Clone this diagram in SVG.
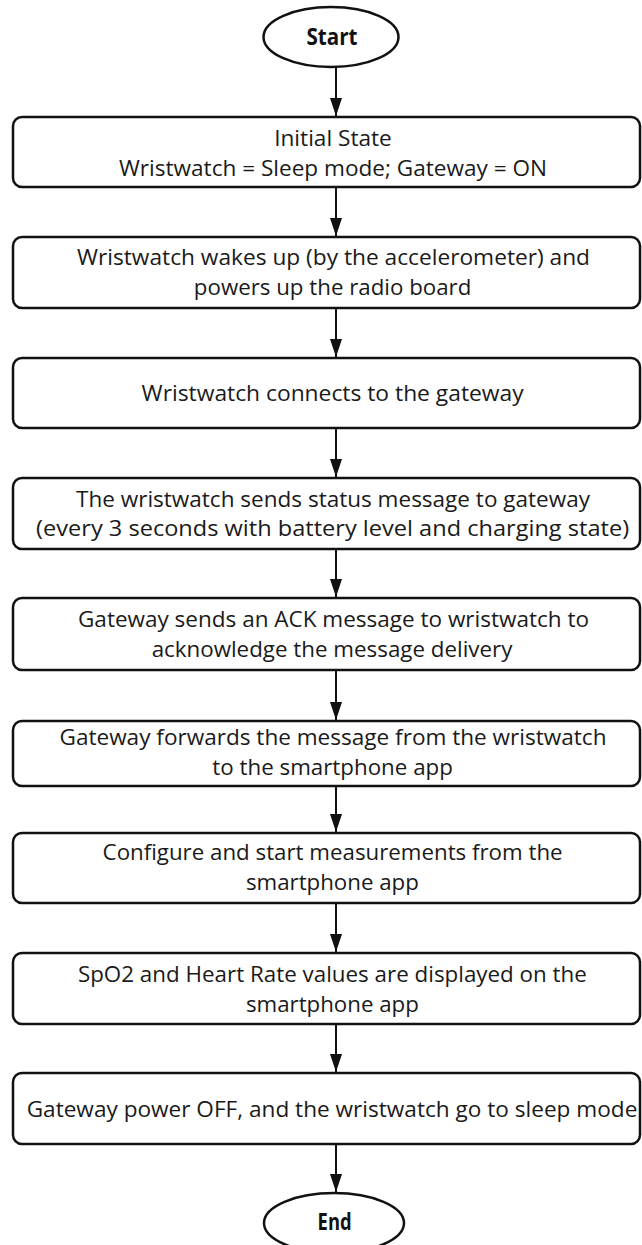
<svg xmlns="http://www.w3.org/2000/svg" width="642" height="1245" viewBox="0 0 642 1245">
<style>
.box{fill:#fff;stroke:#111;stroke-width:2.5}
.term{fill:#fff;stroke:#111;stroke-width:2.5}
.t{font-family:"Open Sans","Liberation Sans",sans-serif;font-size:22.5px;fill:#1a1a1a;text-anchor:middle}
.b{font-family:"Open Sans","Liberation Sans",sans-serif;font-size:22.5px;font-weight:bold;fill:#111;text-anchor:middle}
.c{stroke:#111;stroke-width:2;fill:none}
</style>
<defs>
<marker id="ah" markerWidth="18" markerHeight="12" refX="18" refY="6" orient="auto" markerUnits="userSpaceOnUse" viewBox="0 0 18 12">
<path d="M0,0 L18,6 L0,12 Z" fill="#111"/>
</marker>
</defs>
<rect width="642" height="1245" fill="#fff"/>
<g id="connectors">
<line class="c" x1="336" y1="67" x2="336" y2="116" marker-end="url(#ah)"/>
<line class="c" x1="336" y1="188" x2="336" y2="236" marker-end="url(#ah)"/>
<line class="c" x1="336" y1="309" x2="336" y2="357" marker-end="url(#ah)"/>
<line class="c" x1="336" y1="429" x2="336" y2="477" marker-end="url(#ah)"/>
<line class="c" x1="336" y1="550" x2="336" y2="597" marker-end="url(#ah)"/>
<line class="c" x1="336" y1="671" x2="336" y2="720" marker-end="url(#ah)"/>
<line class="c" x1="336" y1="787" x2="336" y2="832" marker-end="url(#ah)"/>
<line class="c" x1="336" y1="904" x2="336" y2="952" marker-end="url(#ah)"/>
<line class="c" x1="336" y1="1025" x2="336" y2="1072" marker-end="url(#ah)"/>
<line class="c" x1="336" y1="1145" x2="336" y2="1192" marker-end="url(#ah)"/>
</g>
<g id="start">
<ellipse class="term" cx="331" cy="37" rx="67.5" ry="30"/>
<text class="b" x="332" y="45" textLength="51" lengthAdjust="spacingAndGlyphs">Start</text>
</g>
<g id="n1">
<rect class="box" x="13" y="117" width="627" height="70" rx="9"/>
<text class="t" x="333" y="145.5" textLength="117.6" lengthAdjust="spacingAndGlyphs">Initial State</text>
<text class="t" x="333" y="175.5" textLength="428" lengthAdjust="spacingAndGlyphs">Wristwatch = Sleep mode; Gateway = ON</text>
</g>
<g id="n2">
<rect class="box" x="13" y="237" width="627" height="71" rx="9"/>
<text class="t" x="333.5" y="265" textLength="513" lengthAdjust="spacingAndGlyphs">Wristwatch wakes up (by the accelerometer) and</text>
<text class="t" x="332.6" y="295" textLength="277.5" lengthAdjust="spacingAndGlyphs">powers up the radio board</text>
</g>
<g id="n3">
<rect class="box" x="13" y="358" width="627" height="70" rx="9"/>
<text class="t" x="332.6" y="400.5" textLength="382" lengthAdjust="spacingAndGlyphs">Wristwatch connects to the gateway</text>
</g>
<g id="n4">
<rect class="box" x="13" y="478" width="627" height="71" rx="9"/>
<text class="t" x="333" y="506.5" textLength="514" lengthAdjust="spacingAndGlyphs">The wristwatch sends status message to gateway</text>
<text class="t" x="332.6" y="536" textLength="593" lengthAdjust="spacingAndGlyphs">(every 3 seconds with battery level and charging state)</text>
</g>
<g id="n5">
<rect class="box" x="13" y="598" width="627" height="72" rx="9"/>
<text class="t" x="333.5" y="626.5" textLength="511" lengthAdjust="spacingAndGlyphs">Gateway sends an ACK message to wristwatch to</text>
<text class="t" x="332" y="656.5" textLength="360.7" lengthAdjust="spacingAndGlyphs">acknowledge the message delivery</text>
</g>
<g id="n6">
<rect class="box" x="13" y="721" width="627" height="65" rx="9"/>
<text class="t" x="333" y="745" textLength="547" lengthAdjust="spacingAndGlyphs">Gateway forwards the message from the wristwatch</text>
<text class="t" x="332.6" y="775" textLength="240.6" lengthAdjust="spacingAndGlyphs">to the smartphone app</text>
</g>
<g id="n7">
<rect class="box" x="13" y="833" width="627" height="70" rx="9"/>
<text class="t" x="332.6" y="860" textLength="460" lengthAdjust="spacingAndGlyphs">Configure and start measurements from the</text>
<text class="t" x="332.4" y="890" textLength="173" lengthAdjust="spacingAndGlyphs">smartphone app</text>
</g>
<g id="n8">
<rect class="box" x="13" y="953" width="627" height="71" rx="9"/>
<text class="t" x="332.4" y="981.5" textLength="509" lengthAdjust="spacingAndGlyphs">SpO2 and Heart Rate values are displayed on the</text>
<text class="t" x="332.4" y="1011.5" textLength="173" lengthAdjust="spacingAndGlyphs">smartphone app</text>
</g>
<g id="n9">
<rect class="box" x="13" y="1073" width="627" height="71" rx="9"/>
<text class="t" x="332" y="1117" textLength="610.7" lengthAdjust="spacingAndGlyphs">Gateway power OFF, and the wristwatch go to sleep mode</text>
</g>
<g id="end">
<ellipse class="term" cx="334" cy="1223" rx="70" ry="30"/>
<text class="b" x="334.6" y="1229.5" textLength="34" lengthAdjust="spacingAndGlyphs">End</text>
</g>
</svg>
